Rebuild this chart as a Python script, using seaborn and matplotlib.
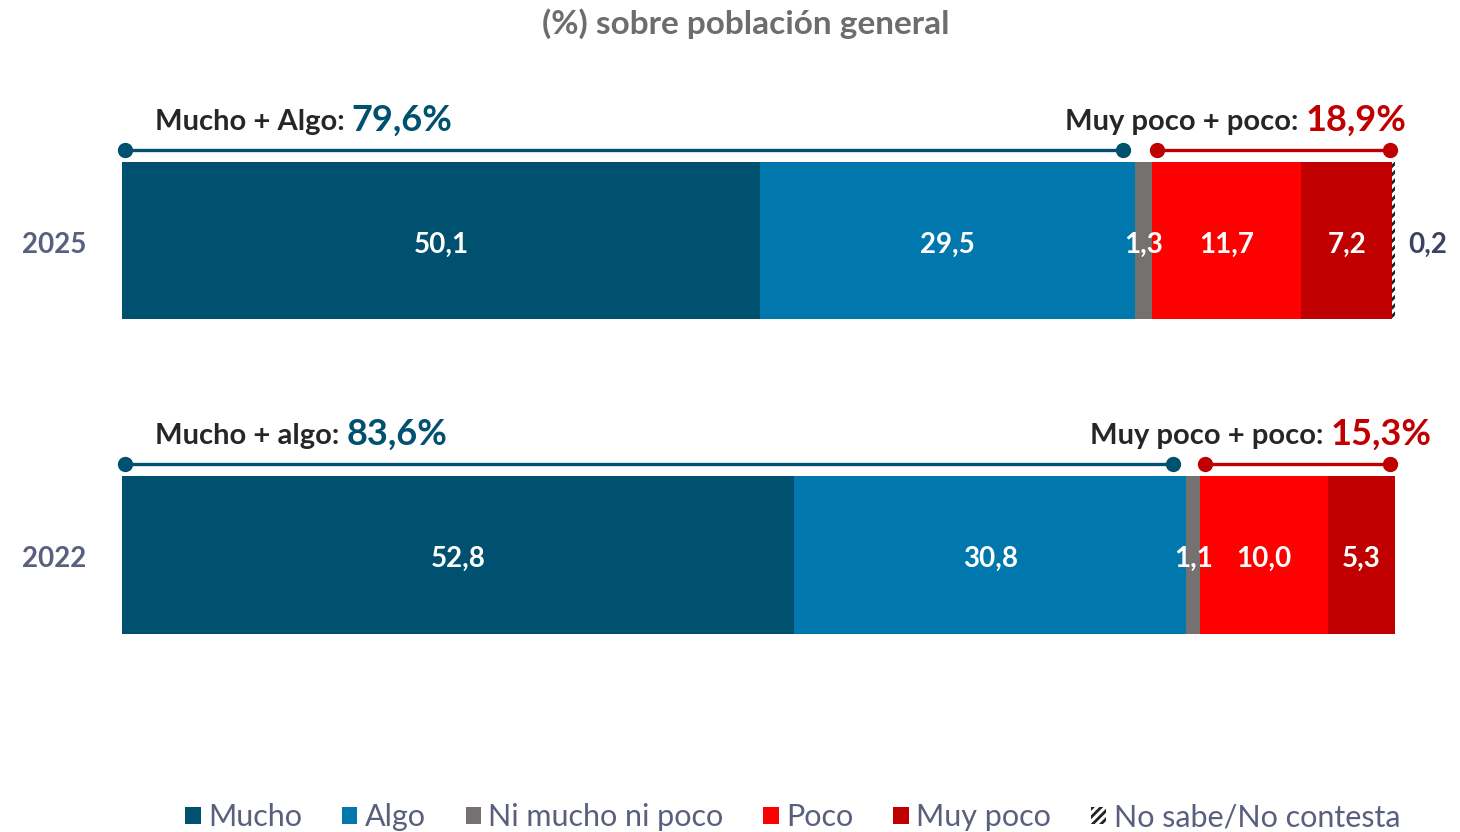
import matplotlib
matplotlib.use("Agg")
import matplotlib.pyplot as plt
from matplotlib.patches import Patch
import seaborn as sns
import pandas as pd

# Datos
years = ['2025', '2022']
categories = ['Mucho', 'Algo', 'Ni mucho ni poco', 'Poco', 'Muy poco', 'No sabe/No contesta']
mucho = [50.1, 52.8]
algo = [29.5, 30.8]
ni_mucho = [1.3, 1.1]
poco = [11.7, 10.0]
muy_poco = [7.2, 5.3]
ns_nc = [0.2, 0.0]
pos_labels = ['Mucho + Algo: ', 'Mucho + algo: ']
pos_totals = ['79,6%', '83,6%']
neg_labels = ['Muy poco + poco: ', 'Muy poco + poco: ']
neg_totals = ['18,9%', '15,3%']

COLORS = ['#00506f', '#0077ad', '#767171', '#ff0000', '#c00000', 'white']
BLUE_TXT = '#00506f'
RED_TXT = '#c00000'
DARK = '#262626'
SLATE = '#5a5f7e'

sns.set_theme(style='white')
plt.rcParams['font.family'] = ['Lato', 'DejaVu Sans']
plt.rcParams['hatch.linewidth'] = 2.0

series = [mucho, algo, ni_mucho, poco, muy_poco, ns_nc]
df = pd.DataFrame({c: s for c, s in zip(categories, series)}, index=years)
cum = df.cumsum(axis=1)

fig = plt.figure(figsize=(14.6, 8.32), dpi=100)
ax = fig.add_axes([0, 0, 1, 1])

# barras apiladas: se dibujan acumulados de mayor a menor
for i in range(len(categories) - 1, -1, -1):
    cat = categories[i]
    if cat == 'No sabe/No contesta':
        kw = dict(hatch='////', edgecolor='#222222', linewidth=0)
    else:
        kw = dict(linewidth=0)
    sns.barplot(x=cum[cat].values, y=years, orient='h', color=COLORS[i],
                width=0.5, saturation=1, ax=ax, **kw)

# etiquetas de segmentos
for r, year in enumerate(years):
    yc = r + 0.012
    left = 0
    for i, cat in enumerate(categories):
        v = df.loc[year, cat]
        if v <= 0:
            continue
        txt = '{:.1f}'.format(v).replace('.', ',')
        if cat == 'No sabe/No contesta':
            ax.text(102.6, yc, txt, ha='center', va='center', fontsize=20,
                    fontweight='bold', color='#3b4262')
        else:
            ax.text(left + v / 2, yc, txt, ha='center', va='center', fontsize=20,
                    fontweight='bold', color='white')
        left += v
    ax.text(-5.3, yc, year, ha='center', va='center', fontsize=20,
            fontweight='bold', color=SLATE)

# corchetes superiores
for r, year in enumerate(years):
    pos_end = df.loc[year, 'Mucho'] + df.loc[year, 'Algo']
    neg_start = pos_end + df.loc[year, 'Ni mucho ni poco']
    yl = r - 0.29
    ax.plot([0.2, pos_end - 1.0], [yl, yl], color=BLUE_TXT, lw=2.4,
            marker='o', markersize=10, solid_capstyle='butt')
    ax.plot([neg_start + 0.4, 99.6], [yl, yl], color=RED_TXT, lw=2.4,
            marker='o', markersize=10, solid_capstyle='butt')

ax.set_xlim(-122 / 12.73, (1460 - 122) / 12.73)
ax.set_ylim((832 - 241) / 314, -241 / 314)
ax.axis('off')

fig.canvas.draw()
inv = ax.transData.inverted()
neg_right = [100.9, 102.9]
for r in range(len(years)):
    yb = r - 0.352
    t1 = ax.text(2.6, yb, pos_labels[r], ha='left', va='baseline', fontsize=21,
                 fontweight='bold', color=DARK)
    fig.canvas.draw()
    x1 = inv.transform((t1.get_window_extent().x1, 0))[0]
    ax.text(x1, yb, pos_totals[r], ha='left', va='baseline', fontsize=26,
            fontweight='bold', color=BLUE_TXT)
    t2 = ax.text(neg_right[r], yb, neg_totals[r], ha='right', va='baseline',
                 fontsize=26, fontweight='bold', color=RED_TXT)
    fig.canvas.draw()
    x0 = inv.transform((t2.get_window_extent().x0, 0))[0]
    ax.text(x0, yb, neg_labels[r], ha='right', va='baseline', fontsize=21,
            fontweight='bold', color=DARK)

# titulo
fig.text(0.511, 0.972, '(%) sobre población general', ha='center', va='center',
         fontsize=24, fontweight='bold', color='#6d6d6d')

# leyenda
handles = []
for c, cat in zip(COLORS, categories):
    if cat == 'No sabe/No contesta':
        handles.append(Patch(facecolor='white', edgecolor='#222222', hatch='////',
                             linewidth=0, label=cat))
    else:
        handles.append(Patch(facecolor=c, linewidth=0, label=cat))
leg = fig.legend(handles=handles, loc='lower center', bbox_to_anchor=(0.543, -0.032),
                 ncol=6, frameon=False, fontsize=22, handlelength=0.5,
                 handleheight=0.5, handletextpad=0.25, columnspacing=1.3)
for t in leg.get_texts():
    t.set_color(SLATE)

fig.savefig('out.png', dpi=100)
